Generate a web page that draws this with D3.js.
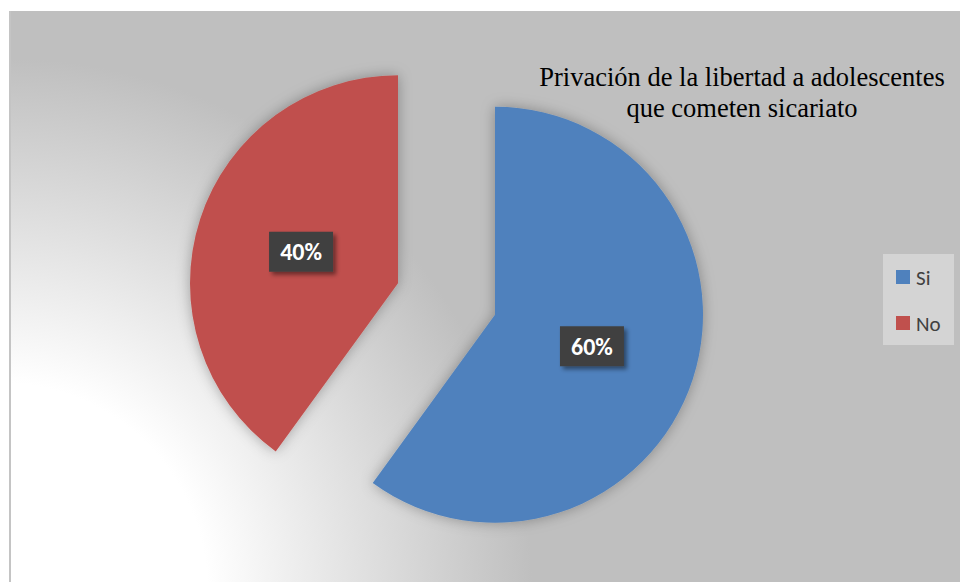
<!DOCTYPE html>
<html>
<head>
<meta charset="utf-8">
<script src="https://cdn.jsdelivr.net/npm/d3@7"></script>
<style>
  html, body { margin: 0; padding: 0; background: #ffffff; }
  svg { display: block; }
</style>
</head>
<body>
<svg id="chart" width="960" height="582"></svg>
<script>
// Survey answers and their shares (percent)
const categories = ["Si", "No"];
const values = [60, 40];
const colors = ["#4f81bd", "#c0504d"];
const titleLines = ["Privación de la libertad a adolescentes", "que cometen sicariato"];

const W = 960, H = 582;
const svg = d3.select("#chart");
const defs = svg.append("defs");

// Chart area background: radial fade from white (lower left) to grey
const bg = defs.append("radialGradient")
  .attr("id", "bgGrad")
  .attr("gradientUnits", "userSpaceOnUse")
  .attr("cx", 0).attr("cy", 590).attr("r", 560);
bg.append("stop").attr("offset", "0.37").attr("stop-color", "#ffffff");
bg.append("stop").attr("offset", "0.95").attr("stop-color", "#bfbfbf");
bg.append("stop").attr("offset", "1").attr("stop-color", "#bfbfbf");

// soft shadow around the slices
const sliceShadow = defs.append("filter").attr("id", "sliceShadow")
  .attr("x", "-20%").attr("y", "-20%").attr("width", "140%").attr("height", "140%");
sliceShadow.append("feDropShadow")
  .attr("dx", 0).attr("dy", 0).attr("stdDeviation", 7)
  .attr("flood-color", "#000").attr("flood-opacity", 0.3);

// shadow for the value boxes
const boxShadow = defs.append("filter").attr("id", "boxShadow")
  .attr("x", "-30%").attr("y", "-30%").attr("width", "160%").attr("height", "160%");
boxShadow.append("feDropShadow")
  .attr("dx", 3).attr("dy", 3).attr("stdDeviation", 2)
  .attr("flood-color", "#000").attr("flood-opacity", 0.45);

// frame
svg.append("rect")
  .attr("x", 10).attr("y", 11).attr("width", W - 10).attr("height", H - 11)
  .attr("fill", "url(#bgGrad)");
svg.append("line")
  .attr("x1", 10).attr("x2", 10).attr("y1", 11).attr("y2", H)
  .attr("stroke", "#c4c4c4").attr("stroke-width", 2);

// Pie layout
const cx = 446.5, cy = 299, radius = 208, explode = 51;
const pie = d3.pie().sort(null).value(d => d.value);
const arcs = pie(categories.map((c, i) => ({ cat: c, value: values[i], color: colors[i] })));
const arc = d3.arc().innerRadius(0).outerRadius(radius);
const labelArc = d3.arc().innerRadius(radius * 0.49).outerRadius(radius * 0.49);

function offset(d) {
  const a = (d.startAngle + d.endAngle) / 2;
  return [Math.sin(a) * explode, -Math.cos(a) * explode];
}

const slices = svg.append("g")
  .attr("transform", `translate(${cx},${cy})`);

slices.selectAll("path.slice")
  .data(arcs)
  .join("path")
  .attr("class", "slice")
  .attr("d", arc)
  .attr("fill", d => d.data.color)
  .attr("filter", "url(#sliceShadow)")
  .attr("transform", d => `translate(${offset(d)})`);

// value labels in dark boxes
const lab = slices.selectAll("g.lab")
  .data(arcs)
  .join("g")
  .attr("class", "lab")
  .attr("transform", d => {
    const o = offset(d), c = labelArc.centroid(d);
    return `translate(${c[0] + o[0]},${c[1] + o[1]})`;
  });
lab.append("rect")
  .attr("x", -32).attr("y", -20).attr("width", 64).attr("height", 40)
  .attr("fill", "#404040")
  .attr("filter", "url(#boxShadow)");
lab.append("text")
  .attr("text-anchor", "middle")
  .attr("y", 8.5)
  .attr("font-family", "Carlito, Calibri, Lato, sans-serif")
  .attr("font-weight", "bold")
  .attr("font-size", 24)
  .attr("fill", "#ffffff")
  .text(d => d.data.value + "%");

// title
svg.append("text")
  .attr("x", 742).attr("y", 86)
  .attr("text-anchor", "middle")
  .attr("font-family", "'Liberation Serif', 'Times New Roman', serif")
  .attr("font-size", 26.5)
  .attr("fill", "#000")
  .selectAll("tspan")
  .data(titleLines)
  .join("tspan")
  .attr("x", 742)
  .attr("dy", (d, i) => i === 0 ? 0 : 31)
  .text(d => d);

// legend
const legend = svg.append("g");
legend.append("rect")
  .attr("x", 883).attr("y", 254).attr("width", 71).attr("height", 91)
  .attr("fill", "#d4d4d4");
const items = legend.selectAll("g.item")
  .data(arcs)
  .join("g")
  .attr("class", "item")
  .attr("transform", (d, i) => `translate(896,${270 + i * 46})`);
items.append("rect")
  .attr("width", 14).attr("height", 14)
  .attr("fill", d => d.data.color);
items.append("text")
  .attr("x", 20).attr("y", 15)
  .attr("font-family", "Carlito, Calibri, Lato, sans-serif")
  .attr("font-size", 21)
  .attr("fill", "#404040")
  .text(d => d.data.cat);
</script>
</body>
</html>
